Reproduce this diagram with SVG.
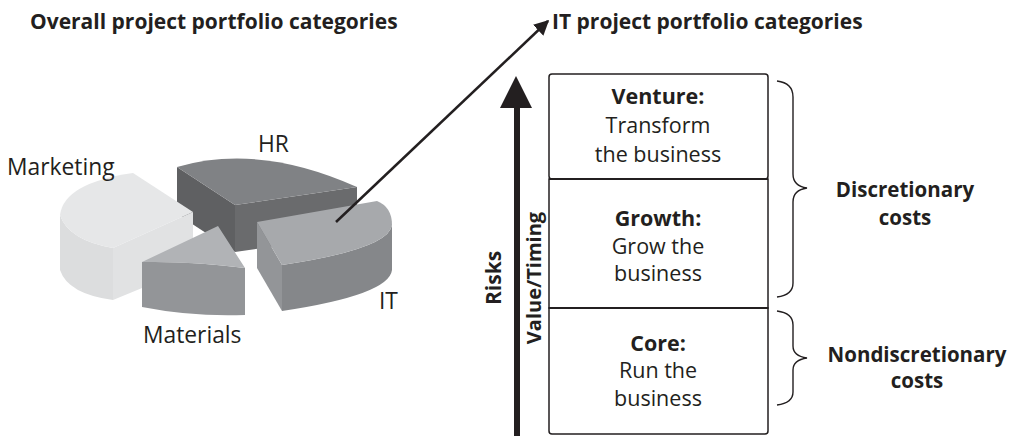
<svg xmlns="http://www.w3.org/2000/svg" width="1015" height="436" viewBox="0 0 1015 436">
<defs>
<style>
text{font-family:"Open Sans","Liberation Sans",sans-serif;fill:#231f20}
.title{font-size:21px;font-weight:bold}
.lbl{font-size:22.8px}
.bx{font-size:21.5px;text-anchor:middle}
.b{font-weight:bold}
.cost{font-size:20.5px;font-weight:bold;text-anchor:middle}
.ax{font-weight:bold;text-anchor:middle}
.brace{fill:none;stroke:#231f20;stroke-width:1.4}
</style>
<marker id="ah" viewBox="0 0 10 10" refX="9" refY="5" markerWidth="6" markerHeight="6" markerUnits="strokeWidth" orient="auto">
<path d="M0,0 L10,5 L0,10 Z" fill="#231f20"/>
</marker>
</defs>
<rect width="1015" height="436" fill="#ffffff"/>

<text class="title" x="30" y="29">Overall project portfolio categories</text>
<text class="title" x="552" y="29">IT project portfolio categories</text>

<g id="pie-hr">
<path d="M177,167 L235,205 L235,252 L177,214 Z" fill="#5f6062"/>
<path d="M235,205 L357,187 L357,234 L235,252 Z" fill="#6a6b6d"/>
<path d="M177,167 Q259,143 357,187 L235,205 Z" fill="#808285"/>
<text class="lbl" x="258" y="152">HR</text>
</g>

<g id="pie-marketing">
<path d="M60,215 Q68,240 113,248 L113,300 Q68,294 60,270 Z" fill="#dcddde"/>
<path d="M113,248 L193,212 L193,267 L113,300 Z" fill="#e1e2e3"/>
<path d="M133,173 L193,212 L113,248 Q68,240 60,215 Q64,183 133,173 Z" fill="#e6e7e8"/>
<text class="lbl" x="7" y="175">Marketing</text>
</g>

<g id="pie-it">
<path d="M257,222 L282,265 L282,311 L257,268 Z" fill="#939598"/>
<path d="M282,265 Q389,249 392,225 L392,270 Q389,295 282,311 Z" fill="#85878a"/>
<path d="M257,222 L377,201 Q392,207 392,225 Q389,249 282,265 Z" fill="#a7a9ac"/>
<text class="lbl" x="379" y="309">IT</text>
</g>

<g id="pie-materials">
<path d="M142,262 Q193,261 245,268 L245,315 Q193,317 142,307 Z" fill="#939598"/>
<path d="M218,226 L245,268 Q193,261 142,262 Z" fill="#b1b3b6"/>
<text class="lbl" x="143" y="343">Materials</text>
</g>

<g id="connectors">
<line x1="336" y1="222" x2="548" y2="21" stroke="#231f20" stroke-width="2.5" marker-end="url(#ah)"/>
<line x1="517" y1="436" x2="517" y2="104" stroke="#231f20" stroke-width="6"/>
<polygon points="500,108 532,108 516,76" fill="#231f20"/>
</g>

<g id="axis-labels">
<text class="ax" font-size="21" transform="translate(501,278) rotate(-90)">Risks</text>
<text class="ax" font-size="20" transform="translate(541,278) rotate(-90)">Value/Timing</text>
</g>

<g id="box-venture">
<rect x="549" y="74" width="219" height="105" rx="3" fill="#ffffff" stroke="#231f20" stroke-width="1.5"/>
<text class="bx b" x="658" y="104">Venture:</text>
<text class="bx" x="658" y="133">Transform</text>
<text class="bx" x="658" y="162">the business</text>
</g>
<g id="box-growth">
<rect x="549" y="179" width="219" height="129" fill="#ffffff" stroke="#231f20" stroke-width="1.5"/>
<text class="bx b" x="658" y="226">Growth:</text>
<text class="bx" x="658" y="254">Grow the</text>
<text class="bx" x="658" y="281">business</text>
</g>
<g id="box-core">
<path d="M549,308 L768,308 L768,431 Q768,434 765,434 L552,434 Q549,434 549,431 Z" fill="#ffffff" stroke="#231f20" stroke-width="1.5"/>
<text class="bx b" x="658" y="351">Core:</text>
<text class="bx" x="658" y="378">Run the</text>
<text class="bx" x="658" y="406">business</text>
</g>
<line x1="549" y1="179" x2="768" y2="179" stroke="#231f20" stroke-width="2.2"/>
<line x1="549" y1="308" x2="768" y2="308" stroke="#231f20" stroke-width="2.2"/>

<g id="brace-discretionary">
<path class="brace" d="M777,81 Q793,83 793,97 L793,174 Q793,186 807,188 Q793,190 793,202 L793,283 Q793,295 777,297"/>
<text class="cost" x="905" y="197">Discretionary</text>
<text class="cost" x="905" y="225">costs</text>
</g>
<g id="brace-nondiscretionary">
<path class="brace" d="M777,311 Q793,313 793,325 L793,346 Q793,356 807,358 Q793,360 793,370 L793,392 Q793,403 777,405"/>
<text class="cost" x="917" y="362">Nondiscretionary</text>
<text class="cost" x="917" y="388">costs</text>
</g>
</svg>
